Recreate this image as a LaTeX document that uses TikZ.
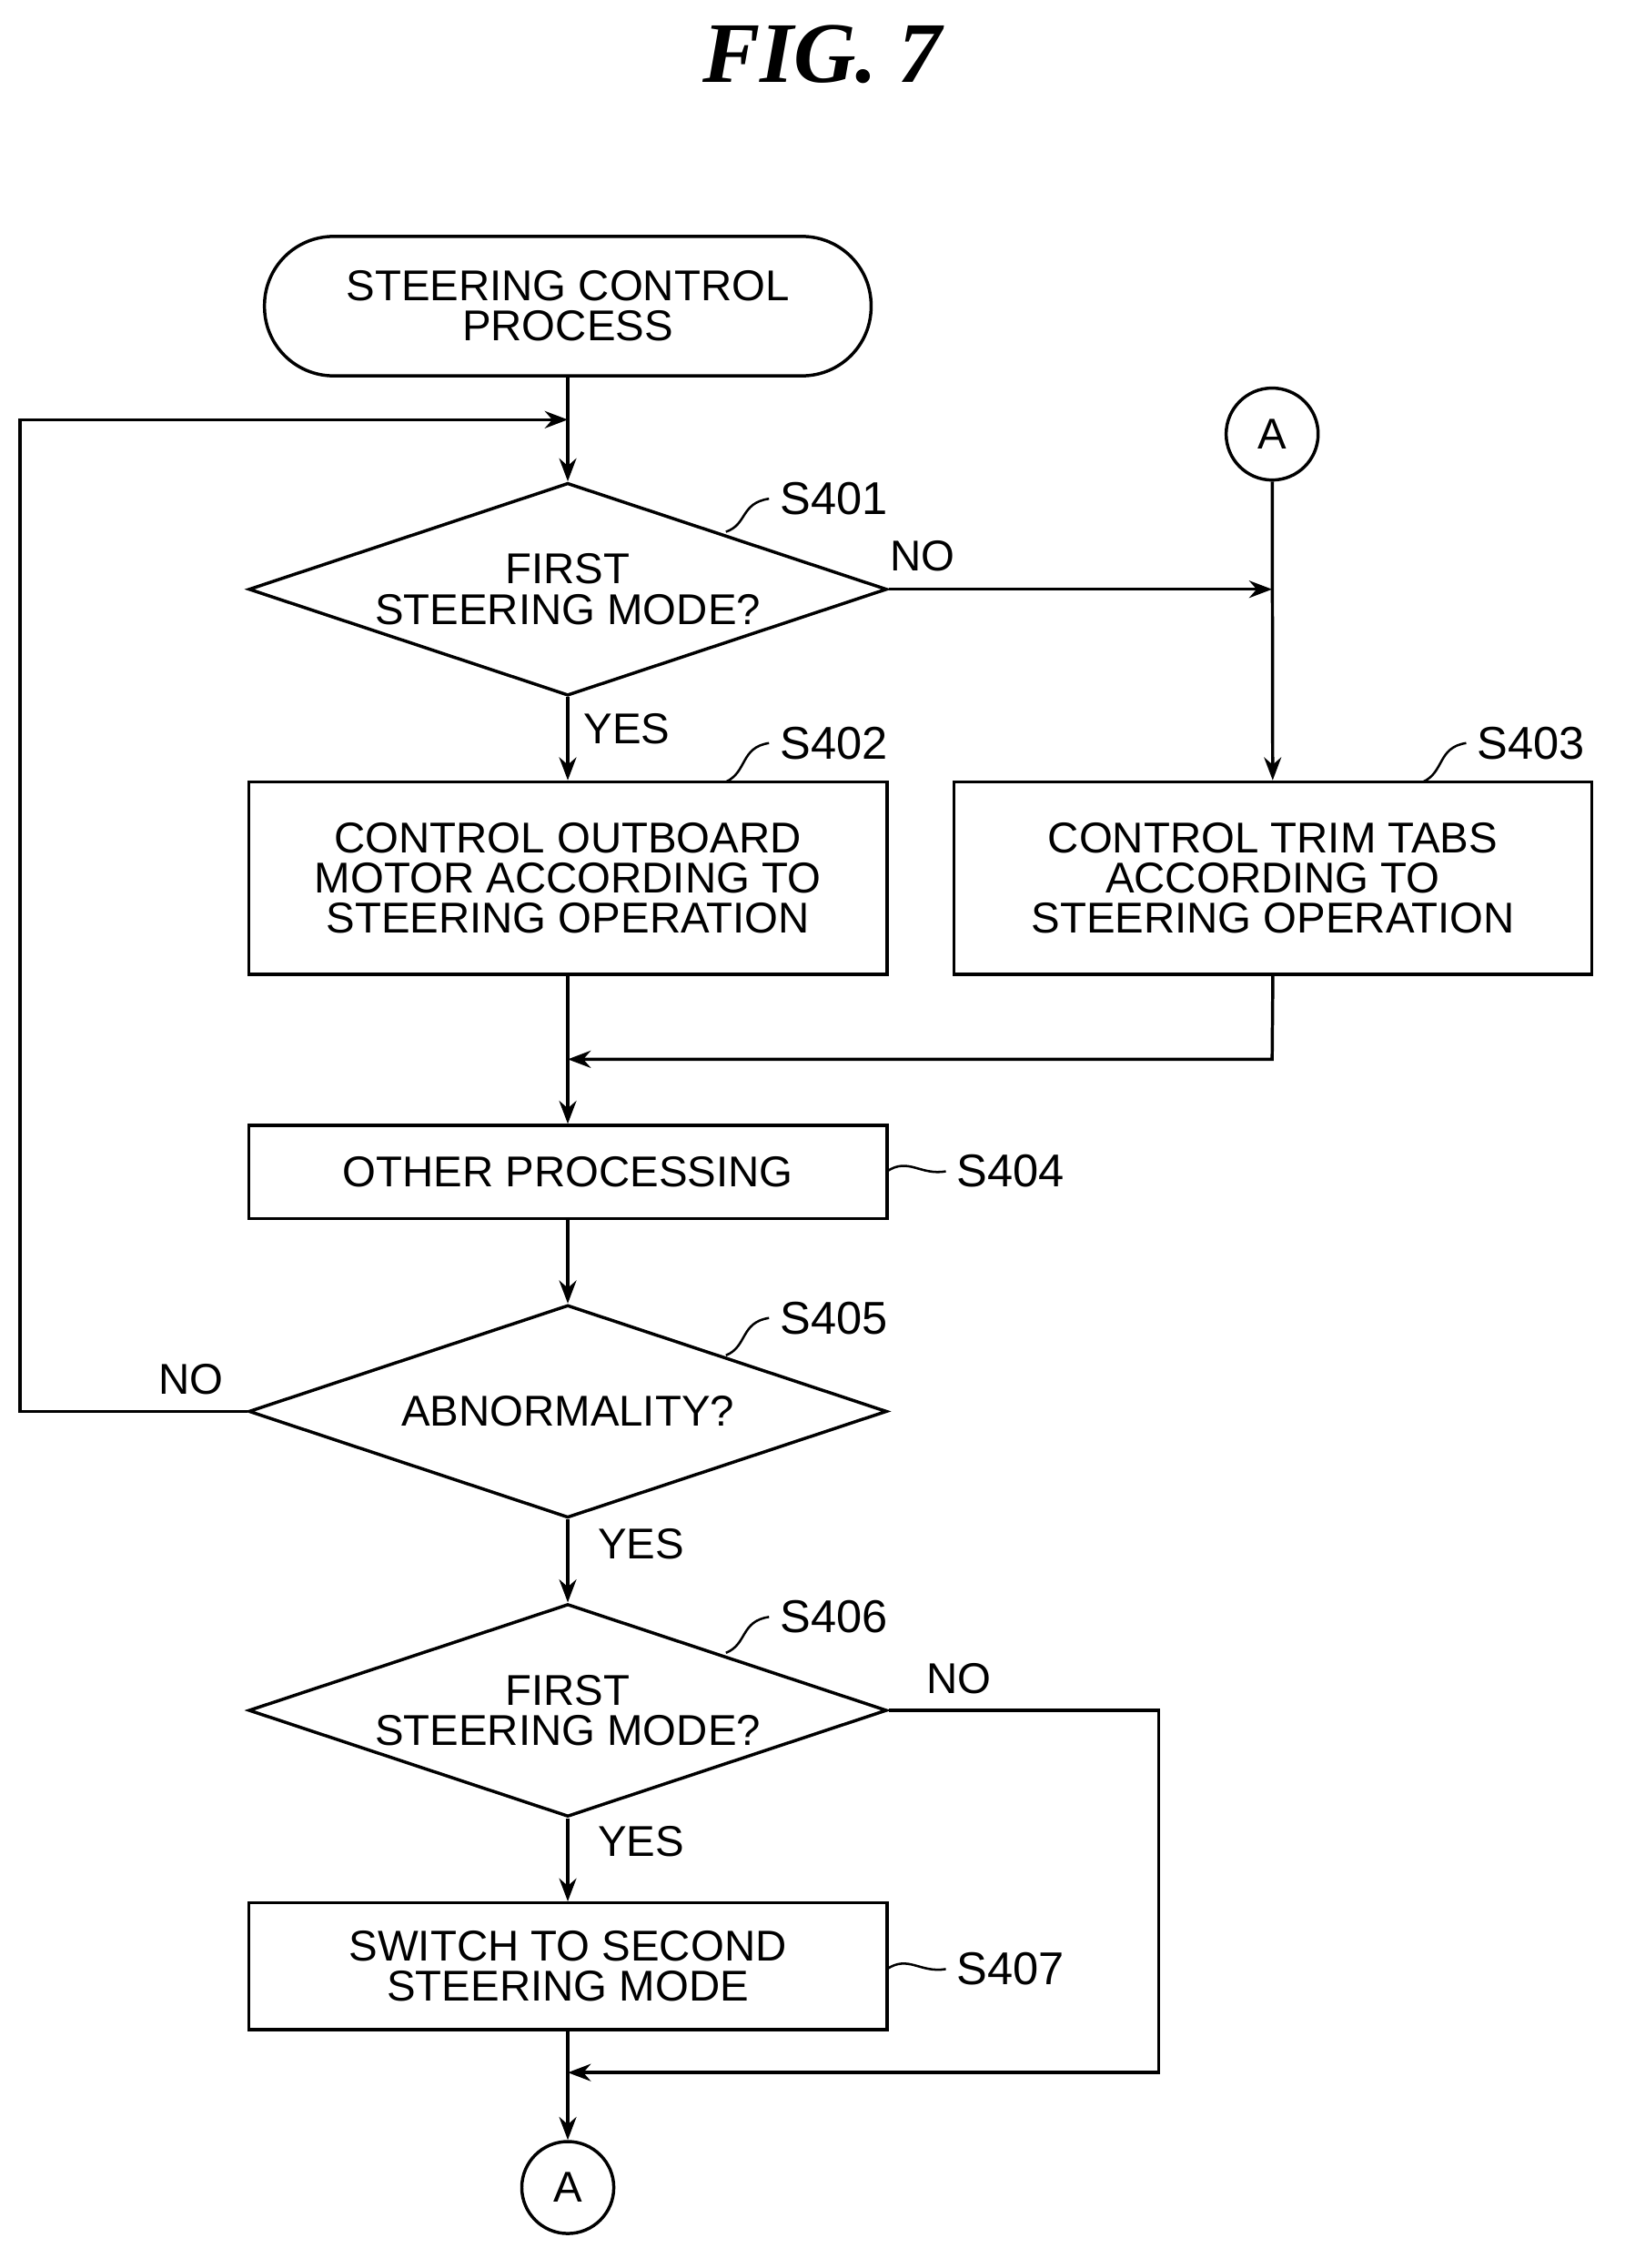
\documentclass[tikz,border=0pt]{standalone}
\usepackage{fontspec}
\setmainfont{Liberation Sans}
\newfontfamily\titlefont{Liberation Serif}
\usetikzlibrary{shapes.geometric,arrows.meta}
\begin{document}
\begin{tikzpicture}[x=0.5pt,y=-0.5pt,line width=1.1pt,
 every node/.style={font=\fontsize{15}{16}\selectfont},
 box/.style={draw,minimum width=222pt,align=center,inner sep=0pt},
 dia/.style={draw,diamond,minimum width=222pt,minimum height=74pt,aspect=3,inner sep=0pt,align=center},
 con/.style={draw,circle,minimum size=32pt,inner sep=0pt},
 lbl/.style={font=\fontsize{16}{17}\selectfont},
 arr/.style={-{Stealth[length=8pt,width=6pt]}},
 sq/.style={line width=0.8pt}]
\useasboundingbox (0,0) rectangle (1130,1578);
\node[font=\titlefont\bfseries\itshape\fontsize{30}{32}\selectfont] (title) at (572,38) {FIG. 7};
\node[draw,rounded corners=24pt,minimum width=211pt,minimum height=48.5pt,align=center] (start) at (395,213) {STEERING CONTROL\\[-2pt]PROCESS};
\coordinate (m1) at (395,292);
\coordinate (lt) at (14,292);
\node[dia] (d1) at (395,410) {FIRST\\[-2pt]STEERING MODE?};
\node[con] (a1) at (885,302) {A};
\coordinate (j1) at (885,410);
\node[box,minimum height=67pt] (s402) at (395,611) {CONTROL OUTBOARD\\[-2pt]MOTOR ACCORDING TO\\[-2pt]STEERING OPERATION};
\node[box,minimum height=67pt] (s403) at (885.5,611) {CONTROL TRIM TABS\\[-2pt]ACCORDING TO\\[-2pt]STEERING OPERATION};
\coordinate (m2) at (395,737);
\coordinate (c2) at (885,737);
\node[box,minimum height=32.5pt] (s404) at (395,815.5) {OTHER PROCESSING};
\node[dia] (d2) at (395,982) {ABNORMALITY?};
\coordinate (lb) at (14,982);
\node[dia] (d3) at (395,1190) {FIRST\\[-2pt]STEERING MODE?};
\coordinate (r1) at (806,1190);
\coordinate (r2) at (806,1442);
\node[box,minimum height=44pt] (s407) at (395,1368) {SWITCH TO SECOND\\[-2pt]STEERING MODE};
\coordinate (m3) at (395,1442);
\node[con] (a2) at (395,1522) {A};
% labels
\node[lbl,anchor=west] (l401) at (535,347) {S401};
\node[lbl,anchor=west] (l402) at (535,517) {S402};
\node[lbl,anchor=west] (l403) at (1020,517) {S403};
\node[lbl,anchor=west] (l404) at (658,815) {S404};
\node[lbl,anchor=west] (l405) at (535,917) {S405};
\node[lbl,anchor=west] (l406) at (535,1125) {S406};
\node[lbl,anchor=west] (l407) at (658,1370) {S407};
\node (no1) at (642,387) {NO};
\node (yes1) at (436,507) {YES};
\node (no2) at (133,960) {NO};
\node (yes2) at (446,1074) {YES};
\node (no3) at (667,1168) {NO};
\node (yes3) at (446,1281) {YES};
% squiggles
\draw[sq] (505,370) .. controls (520,365) and (515,350) .. (535,347);
\draw[sq] (505,544) .. controls (520,537) and (515,520) .. (535,517);
\draw[sq] (990,544) .. controls (1005,537) and (1000,520) .. (1020,517);
\draw[sq] (617,815) .. controls (632,805) and (640,818) .. (658,815);
\draw[sq] (505,943) .. controls (520,937) and (515,920) .. (535,917);
\draw[sq] (505,1150) .. controls (520,1144) and (515,1128) .. (535,1125);
\draw[sq] (617,1370) .. controls (632,1360) and (640,1373) .. (658,1370);
% connectors
\draw (start) -- (m1);
\draw[arr] (m1) -- (d1);
\draw[arr] (d1) -- (s402);
\draw[arr] (d1.east) -- (j1);
\draw[arr] (a1) -- (s403);
\draw (s402) -- (m2);
\draw[arr] (s403.south) -- (c2) -- (m2);
\draw[arr] (m2) -- (s404);
\draw[arr] (s404) -- (d2);
\draw[arr] (d2.west) -- (lb) -- (lt) -- (m1);
\draw[arr] (d2) -- (d3);
\draw[arr] (d3) -- (s407);
\draw[arr] (d3.east) -- (r1) -- (r2) -- (m3);
\draw (s407) -- (m3);
\draw[arr] (m3) -- (a2);
\end{tikzpicture}
\end{document}
